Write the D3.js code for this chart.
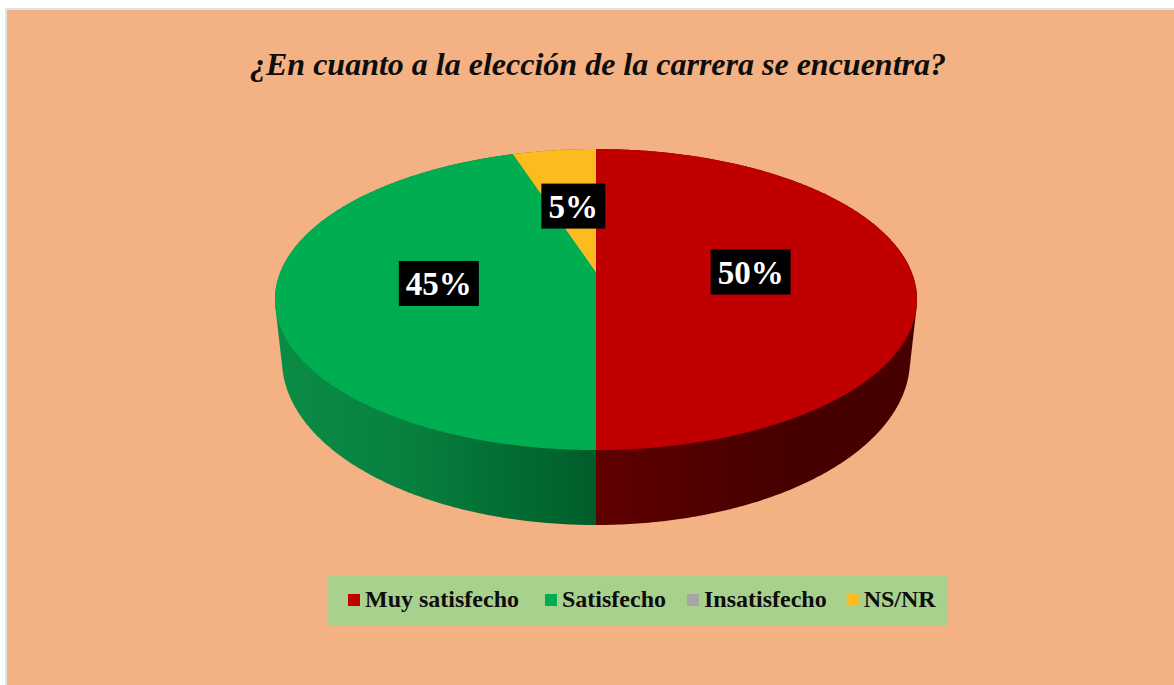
<!DOCTYPE html>
<html>
<head>
<meta charset="utf-8">
<script src="https://cdn.jsdelivr.net/npm/d3@7"></script>
<style>
  html, body { margin: 0; padding: 0; background: #fff; overflow: hidden; }
  svg { display: block; }
  text { font-family: "Liberation Serif", serif; font-weight: bold; }
</style>
</head>
<body>
<div id="chart"></div>
<script>
'use strict'
const title = "¿En cuanto a la elección de la carrera se encuentra?"
const categories = ["Muy satisfecho", "Satisfecho", "Insatisfecho", "NS/NR"]
const values = [50, 45, 0, 5]
const colors = ["#c00000", "#00ad50", "#a5a5a5", "#fcbb1e"]
const sideColors = [["#5f0000", "#470000"], ["#0a8c45", "#005c2a"], ["#888", "#666"], ["#b08010", "#906800"]]
const labelRadius = [0.49, 0.497, 0.5, 0.5]
const legendGaps = [26, 21, 20, 0]

const width = 1174, height = 685
const svg = d3.select("#chart").append("svg")
  .attr("width", width).attr("height", height)

// panel
svg.append("rect").attr("x", 5).attr("y", 8).attr("width", width).attr("height", height)
  .attr("fill", "#dde5ea")
svg.append("rect").attr("x", 7).attr("y", 10).attr("width", width).attr("height", height)
  .attr("fill", "#f4b183")

svg.append("text")
  .attr("x", 598).attr("y", 75)
  .attr("text-anchor", "middle")
  .attr("font-size", 32)
  .attr("font-style", "italic")
  .attr("fill", "#0d0d0d")
  .text(title)

// the pie is tilted in perspective, so the disc centre is above the ellipse centre
const tilt = 0.183
const topDisc = {
  x: d3.scaleLinear().domain([-1, 1]).range([596 - 315.6, 596 + 315.6]),
  y: d3.scaleLinear().domain([-1, 1]).range([272 + 145.5, 272 - 145.5])
}
const bottomDisc = {
  x: d3.scaleLinear().domain([-1, 1]).range([596 - 308.7, 596 + 308.7]),
  y: d3.scaleLinear().domain([-1, 1]).range([329.8 + 159.5, 329.8 - 159.5])
}
function project(disc, angle, r = 1){
  const u = r*Math.sin(angle), v = r*Math.cos(angle), w = 1 + tilt*v
  return [disc.x(u/w), disc.y(v/w)]
}
function arcPoints(disc, a0, a1){
  const n = Math.max(2, Math.ceil(Math.abs(a1 - a0)/0.01))
  return d3.range(n + 1).map(i => project(disc, a0 + (a1 - a0)*i/n))
}

const slices = d3.pie().sort(null).value(d => d)(values)
const line = d3.line()
const defs = svg.append("defs")

// sides, hull of both arcs so the edge runs straight from top rim to bottom rim
slices.forEach((s, i) => {
  if (s.value === 0) return
  const grad = defs.append("linearGradient")
    .attr("id", "side" + i)
    .attr("gradientUnits", "userSpaceOnUse")
    .attr("x1", i === 0 ? 596 : 283).attr("x2", i === 0 ? 911 : 596)
    .attr("y1", 0).attr("y2", 0)
  grad.append("stop").attr("offset", 0).attr("stop-color", sideColors[i][0])
  grad.append("stop").attr("offset", i === 0 ? 0.6 : 0.4).attr("stop-color", i === 0 ? sideColors[i][1] : "#07803f")
  grad.append("stop").attr("offset", 1).attr("stop-color", sideColors[i][1])
  const pts = d3.polygonHull(arcPoints(topDisc, s.startAngle, s.endAngle)
    .concat(arcPoints(bottomDisc, s.endAngle, s.startAngle)))
  svg.append("path")
    .attr("d", line(pts) + "Z")
    .attr("fill", `url(#side${i})`)
})

// top faces
slices.forEach((s, i) => {
  if (s.value === 0) return
  const pts = [project(topDisc, 0, 0)].concat(arcPoints(topDisc, s.startAngle, s.endAngle))
  svg.append("path")
    .attr("d", line(pts) + "Z")
    .attr("fill", colors[i])
})

// data labels
const labelW = {3: 80, 2: 64}, labelH = 45
slices.forEach((s, i) => {
  if (s.value === 0) return
  const [x, y] = project(topDisc, (s.startAngle + s.endAngle)/2, labelRadius[i])
  const txt = s.value + "%"
  const w = labelW[txt.length]
  svg.append("rect")
    .attr("x", x - w/2).attr("y", y - labelH/2)
    .attr("width", w).attr("height", labelH)
    .attr("fill", "#000")
  svg.append("text")
    .attr("x", x).attr("y", y + 11.5)
    .attr("text-anchor", "middle")
    .attr("font-size", 33)
    .attr("fill", "#fff")
    .text(txt)
})

// legend
svg.append("rect")
  .attr("x", 327).attr("y", 575).attr("width", 620).attr("height", 51)
  .attr("fill", "#a9d18e")
let lx = 348
categories.forEach((c, i) => {
  svg.append("rect")
    .attr("x", lx).attr("y", 594).attr("width", 12).attr("height", 12)
    .attr("fill", colors[i])
  const t = svg.append("text")
    .attr("x", lx + 17).attr("y", 607)
    .attr("font-size", 24)
    .attr("fill", "#0d0d0d")
    .text(c)
  lx += 17 + t.node().getComputedTextLength() + legendGaps[i]
})
</script>
</body>
</html>
